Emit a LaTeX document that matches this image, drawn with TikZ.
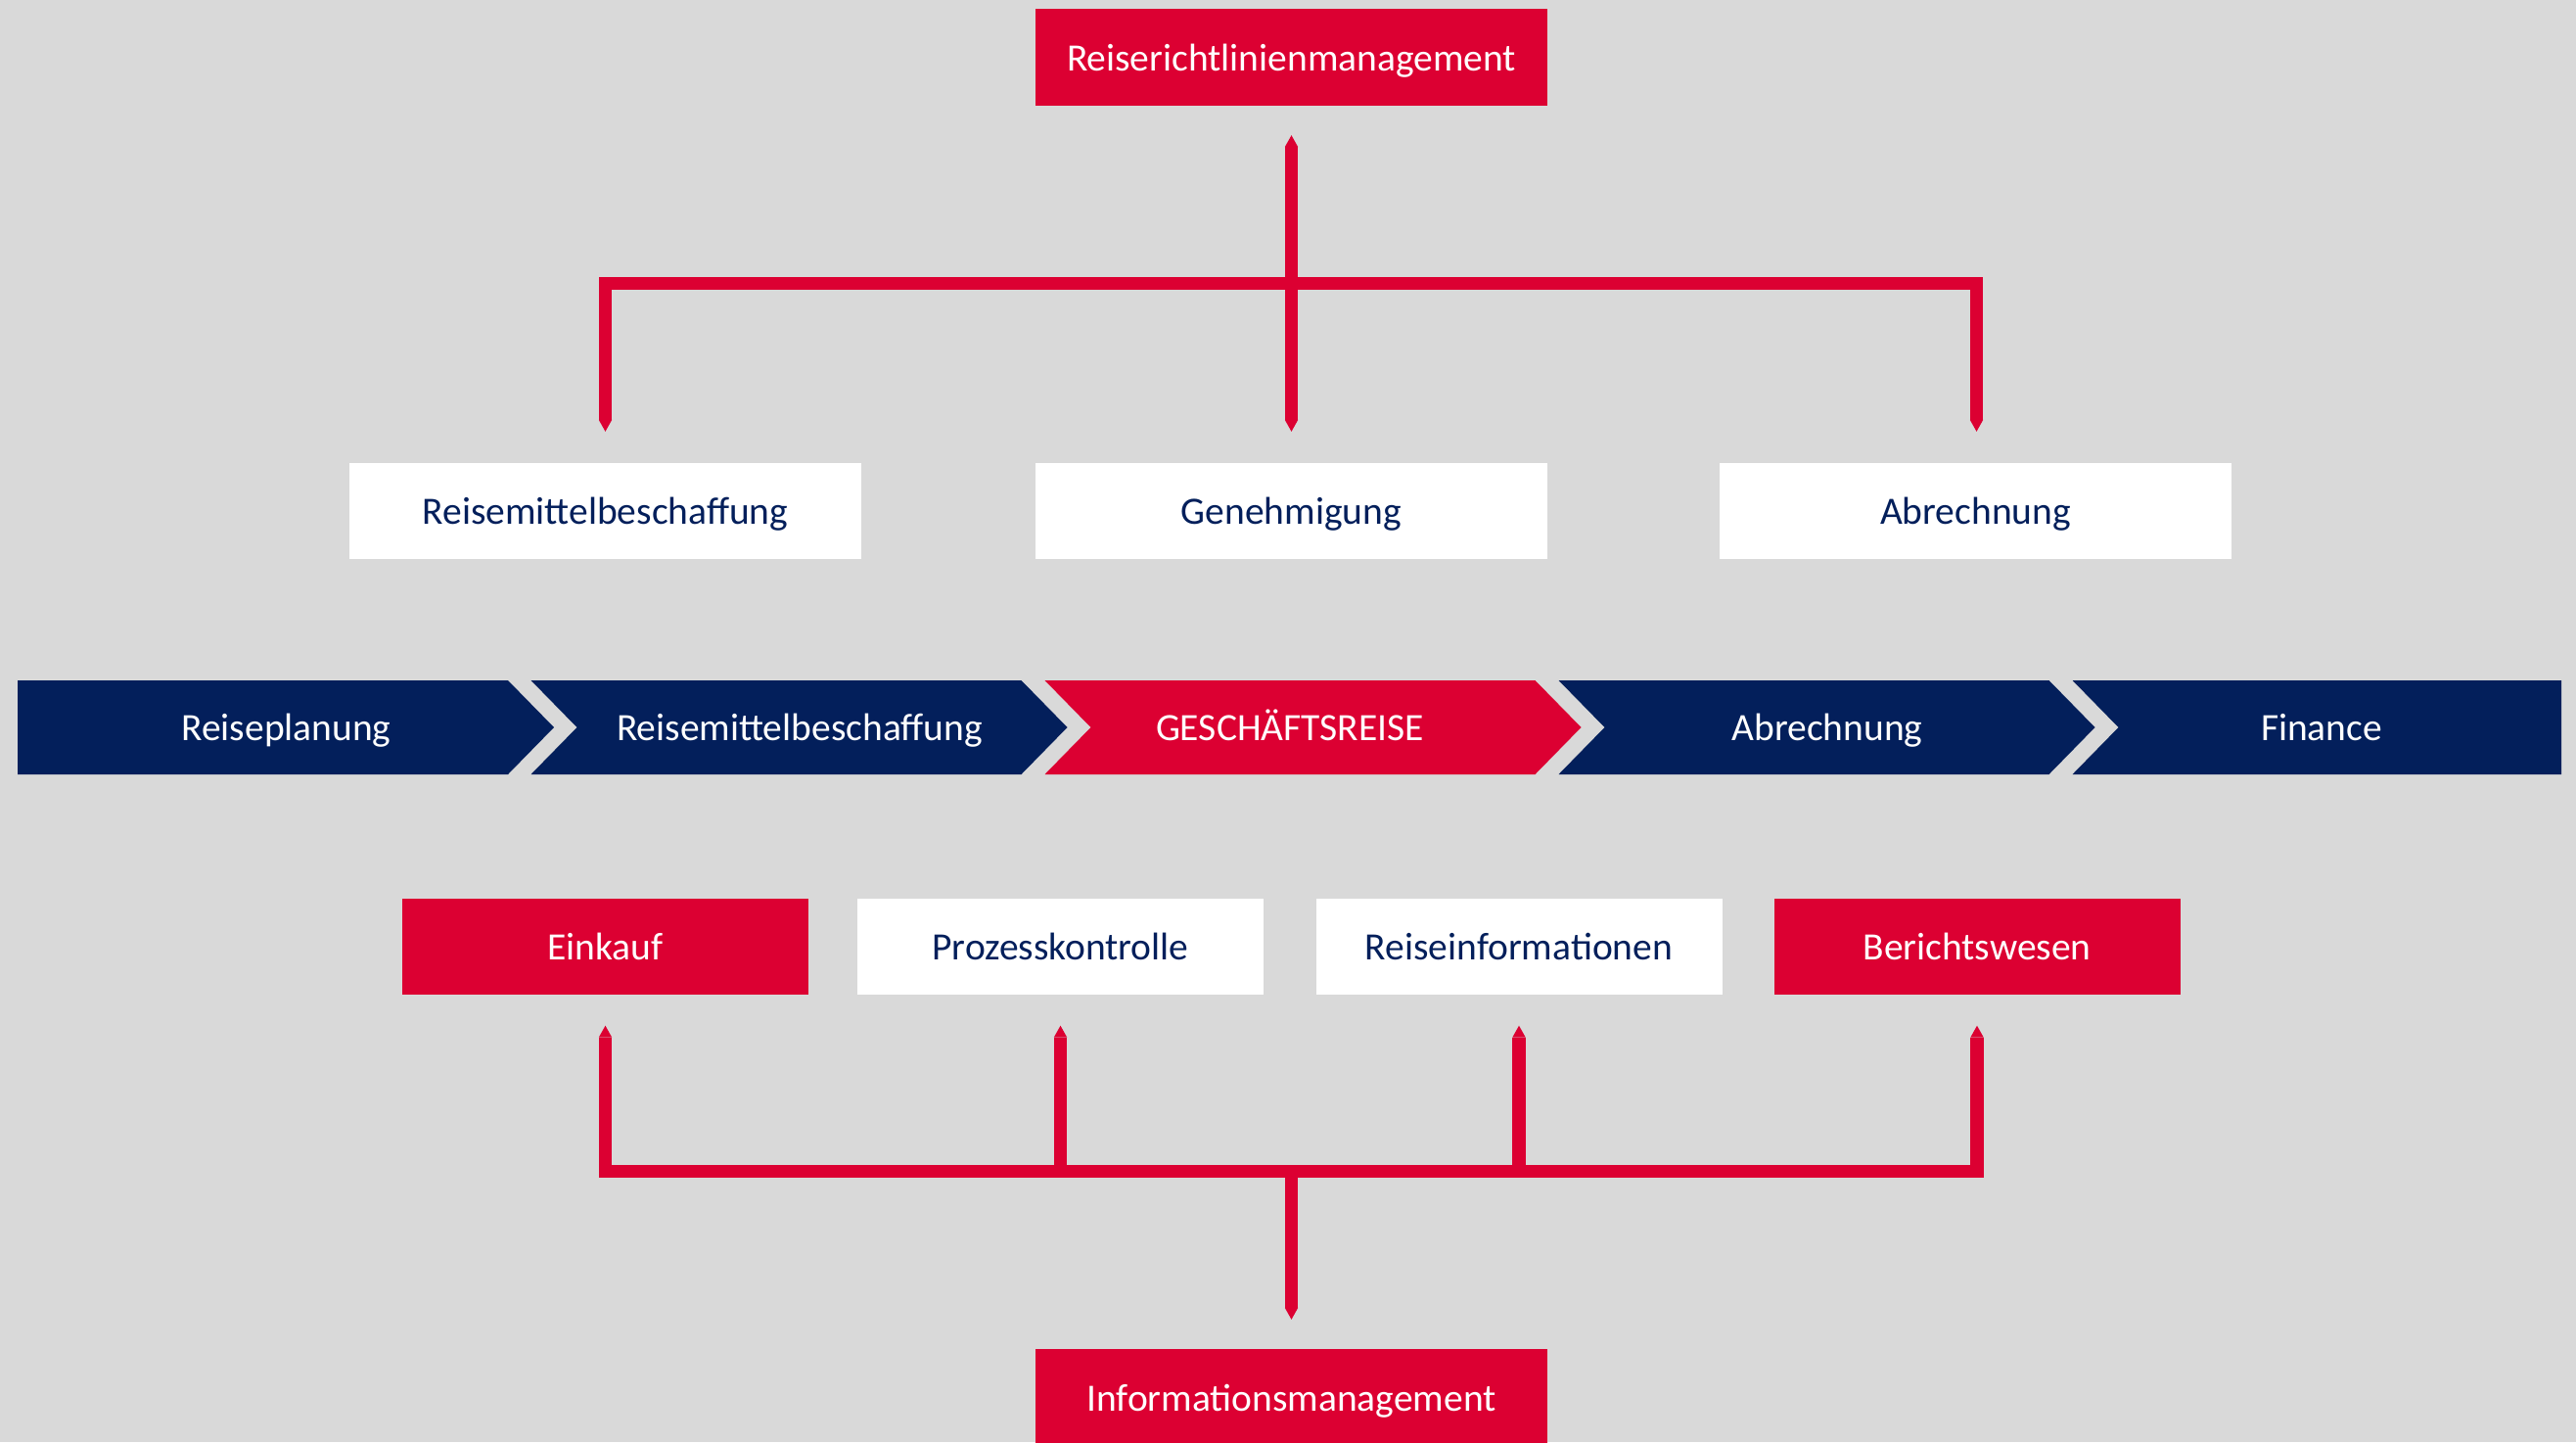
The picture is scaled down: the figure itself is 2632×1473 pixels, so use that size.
\documentclass[tikz,border=0pt]{standalone}
\usepackage{fontspec}
\setmainfont{Carlito}
\usetikzlibrary{arrows.meta}
\definecolor{dbred}{RGB}{220,0,50}
\definecolor{dbnavy}{RGB}{3,31,91}
\definecolor{bgrey}{RGB}{217,217,217}
\begin{document}
\begin{tikzpicture}[x=1pt,y=-1pt,
  lbl/.style={font=\fontsize{39.5}{40}\selectfont, text height=27.5pt, text depth=0pt, inner sep=0pt},
  redbox/.style={lbl, fill=dbred, text=white, minimum width=523pt, minimum height=99pt},
  whitebox/.style={lbl, fill=white, text=dbnavy, minimum width=523pt, minimum height=98pt},
  redsmall/.style={lbl, fill=dbred, text=white, minimum width=415pt, minimum height=97.5pt},
  whitesmall/.style={lbl, fill=white, text=dbnavy, minimum width=415pt, minimum height=97.5pt},
  chevtext/.style={lbl, text=white},
  conn/.style={draw=dbred, line width=13.5pt, line join=miter},
  tip/.tip={Triangle[length=12pt,width=13.5pt,line width=0pt]}
]
\useasboundingbox (0,0) rectangle (2632,1473);
\fill[bgrey] (0,0) rectangle (2632,1473);

% top and middle boxes
\node[redbox] (T) at (1319.5,58.5) {Reiserichtlinienmanagement};
\node[whitebox] (R) at (618.5,522) {Reisemittelbeschaffung};
\node[whitebox] (G) at (1319.5,522) {Genehmigung};
\node[whitebox] (A) at (2018.5,522) {Abrechnung};

% chevron row
\fill[dbnavy] (18,695) -- (519,695) -- (566,743) -- (519,791) -- (18,791) -- cycle;
\fill[dbnavy] (542.5,695) -- (1043.5,695) -- (1090.5,743) -- (1043.5,791) -- (542.5,791) -- (589.5,743) -- cycle;
\fill[dbred] (1067.5,695) -- (1568.5,695) -- (1615.5,743) -- (1568.5,791) -- (1067.5,791) -- (1114.5,743) -- cycle;
\fill[dbnavy] (1592.5,695) -- (2093.5,695) -- (2140.5,743) -- (2093.5,791) -- (1592.5,791) -- (1639.5,743) -- cycle;
\fill[dbnavy] (2117.5,695) -- (2617,695) -- (2617,791) -- (2117.5,791) -- (2164.5,743) -- cycle;
\node[chevtext] (c1) at (292.5,743) {Reiseplanung};
\node[chevtext] (c2) at (817,743) {Reisemittelbeschaffung};
\node[chevtext] (c3) at (1318,743) {GESCHÄFTSREISE};
\node[chevtext] (c4) at (1867,743) {Abrechnung};
\node[chevtext] (c5) at (2372,743) {Finance};

% lower boxes
\node[redsmall] (E) at (618.5,966.75) {Einkauf};
\node[whitesmall] (P) at (1083.5,966.75) {Prozesskontrolle};
\node[whitesmall] (RI) at (1552,966.75) {Reiseinformationen};
\node[redsmall] (B) at (2020,966.75) {Berichtswesen};
\node[redbox] (I) at (1319.5,1427.5) {Informationsmanagement};

% top connectors
\coordinate (topbar) at (1319.5,289.5);
\draw[conn, tip-tip] ([yshift=-30pt]T.south) -- ([yshift=32pt]G.north);
\draw[conn, tip-tip] ([yshift=32pt]R.north) |- (topbar) -| ([xshift=1pt,yshift=32pt]A.north);

% bottom connectors
\coordinate (botbar) at (1319.5,1196.7);
\draw[conn, tip-tip] ([yshift=-32pt]E.south) |- (botbar) -| ([yshift=-32pt]B.south);
\draw[conn, -tip] (P.south |- botbar) -- ([yshift=-32pt]P.south);
\draw[conn, -tip] (RI.south |- botbar) -- ([yshift=-32pt]RI.south);
\draw[conn, -tip] (botbar) -- ([yshift=30pt]I.north);
\end{tikzpicture}
\end{document}
